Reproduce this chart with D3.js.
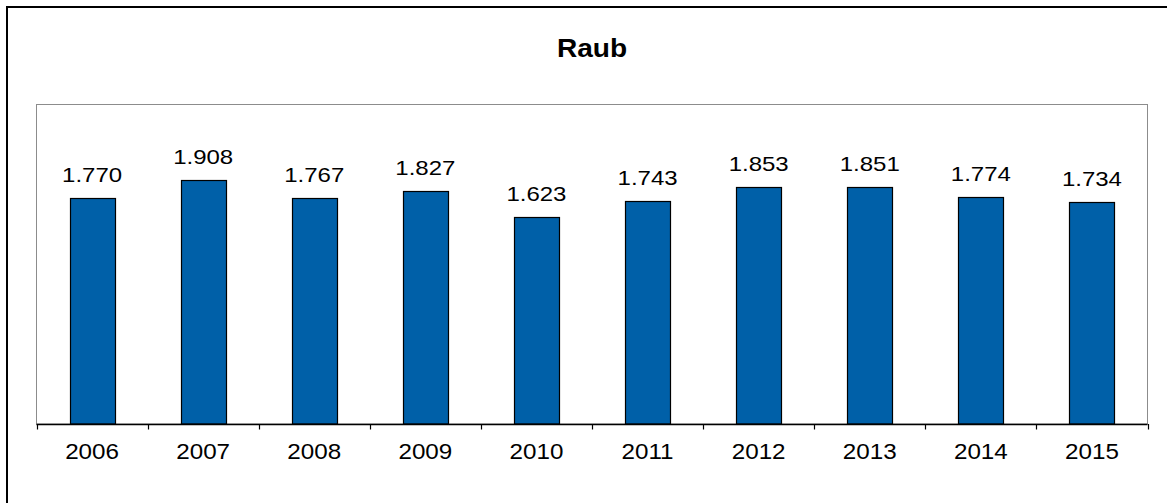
<!DOCTYPE html>
<html>
<head>
<meta charset="utf-8">
<script src="https://cdn.jsdelivr.net/npm/d3@7"></script>
<style>
  body { margin: 0; background: #fff; }
  svg { display: block; font-family: "Liberation Sans", Arial, sans-serif; }
</style>
</head>
<body>
<script>
// data
var years = ["2006", "2007", "2008", "2009", "2010", "2011", "2012", "2013", "2014", "2015"];
var values = [1770, 1908, 1767, 1827, 1623, 1743, 1853, 1851, 1774, 1734];
var chartTitle = "Raub";

var W = 1167, H = 503;
var plot = {left: 36.5, top: 104.5, right: 1147.5, bottom: 424};

var svg = d3.select("body").append("svg")
    .attr("width", W)
    .attr("height", H);

// outer frame (right/bottom edges fall outside the picture)
svg.append("rect")
    .attr("x", 7).attr("y", 7)
    .attr("width", W + 20).attr("height", H + 20)
    .attr("fill", "none")
    .attr("stroke", "#000")
    .attr("stroke-width", 2);

// plot area frame
svg.append("rect")
    .attr("x", plot.left).attr("y", plot.top)
    .attr("width", plot.right - plot.left).attr("height", plot.bottom - plot.top)
    .attr("fill", "none")
    .attr("stroke", "#8c8c8c")
    .attr("stroke-width", 1);

var x = d3.scaleBand()
    .domain(years)
    .range([plot.left, plot.right])
    .paddingInner(0.595)
    .paddingOuter(0.2975);

var y = d3.scaleLinear()
    .domain([0, 2500])
    .range([plot.bottom, plot.top]);

var de = d3.formatLocale({decimal: ",", thousands: ".", grouping: [3], currency: ["", " €"]});
var fmt = de.format(",");

// bars
svg.append("g")
  .selectAll("rect")
  .data(values)
  .enter()
  .append("rect")
    .attr("x", function(d, i) { return Math.round(x(years[i])) + 0.5; })
    .attr("y", function(d) { return Math.round(y(d)) + 0.5; })
    .attr("width", Math.round(x.bandwidth()))
    .attr("height", function(d) { return plot.bottom - Math.round(y(d)) - 0.5; })
    .attr("fill", "#0060a8")
    .attr("stroke", "#000")
    .attr("stroke-width", 1.2);

// value labels
svg.append("g")
  .selectAll("text")
  .data(values)
  .enter()
  .append("text")
    .attr("transform", function(d, i) {
      return "translate(" + (x(years[i]) + x.bandwidth() / 2) + "," + (y(d) - 16) + ") scale(1.2,1)";
    })
    .attr("text-anchor", "middle")
    .style("font-size", "20px")
    .attr("fill", "#000")
    .text(function(d) { return fmt(d); });

// x axis: line + ticks between categories
var step = x.step();
var tickPos = d3.range(years.length + 1).map(function(i) { return plot.left + i * step; });
var axis = svg.append("g");
axis.append("line")
    .attr("x1", plot.left).attr("x2", plot.right)
    .attr("y1", plot.bottom + 0.5).attr("y2", plot.bottom + 0.5)
    .attr("stroke", "#000")
    .attr("stroke-width", 1.5);
axis.selectAll(".tick")
  .data(tickPos)
  .enter()
  .append("line")
    .attr("x1", function(d) { return Math.round(d) + 0.5; })
    .attr("x2", function(d) { return Math.round(d) + 0.5; })
    .attr("y1", plot.bottom)
    .attr("y2", plot.bottom + 5.5)
    .attr("stroke", "#000")
    .attr("stroke-width", 1.2);
axis.selectAll(".lbl")
  .data(years)
  .enter()
  .append("text")
    .attr("transform", function(d) {
      return "translate(" + (x(d) + x.bandwidth() / 2) + "," + (plot.bottom + 35) + ") scale(1.1,1)";
    })
    .attr("text-anchor", "middle")
    .style("font-size", "22px")
    .attr("fill", "#000")
    .text(function(d) { return d; });

// title
svg.append("text")
    .attr("transform", "translate(" + ((plot.left + plot.right) / 2) + ",57) scale(1.08,1)")
    .attr("text-anchor", "middle")
    .style("font-size", "26px")
    .style("font-weight", "bold")
    .text(chartTitle);
</script>
</body>
</html>
